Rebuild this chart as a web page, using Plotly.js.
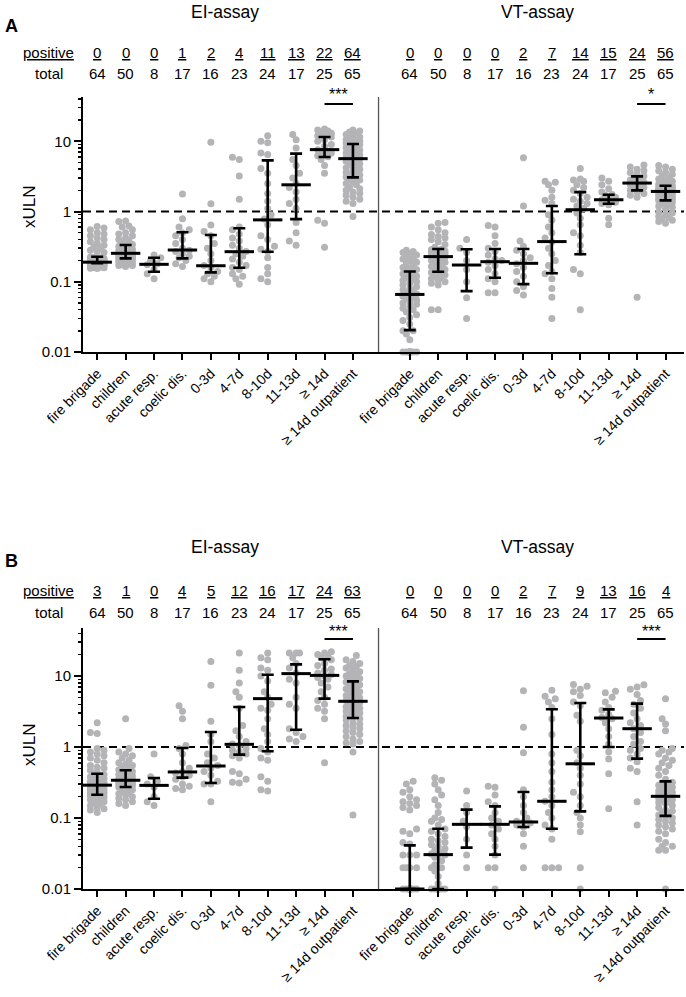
<!DOCTYPE html>
<html>
<head>
<meta charset="utf-8">
<script src="https://cdn.plot.ly/plotly-3.0.1.min.js"></script>
<style>
  html, body { margin: 0; padding: 0; background: #fff; }
  #chart { width: 686px; height: 997px; }
</style>
</head>
<body>
<div id="chart"></div>
<script>
// xULN values per group, EI- and VT-assay, panels A and B
const groups = ["fire brigade", "children", "acute resp.", "coelic dis.", "0-3d", "4-7d", "8-10d", "11-13d", "≥ 14d", "≥ 14d outpatient"];
const totals = [64, 50, 8, 17, 16, 23, 24, 17, 25, 65];

const posA_EI = [0, 0, 0, 1, 2, 4, 11, 13, 22, 64];
const posA_VT = [0, 0, 0, 0, 2, 7, 14, 15, 24, 56];
const posB_EI = [3, 1, 0, 4, 5, 12, 16, 17, 24, 63];
const posB_VT = [0, 0, 0, 0, 2, 7, 9, 13, 16, 4];

// median and interquartile range
const medA_EI = [0.19, 0.254, 0.177, 0.283, 0.169, 0.268, 0.76, 2.4, 7.6, 5.65];
const q1A_EI  = [0.183, 0.215, 0.139, 0.215, 0.136, 0.158, 0.268, 0.78, 5.97, 3.06];
const q3A_EI  = [0.227, 0.334, 0.22, 0.507, 0.464, 0.578, 5.35, 6.67, 11.5, 9.16];
const medA_VT = [0.066, 0.228, 0.173, 0.193, 0.183, 0.373, 1.06, 1.47, 2.54, 1.93];
const q1A_VT  = [0.0205, 0.139, 0.0736, 0.114, 0.0926, 0.132, 0.246, 1.29, 2.0, 1.44];
const q3A_VT  = [0.14, 0.293, 0.29, 0.293, 0.293, 1.2, 1.89, 1.73, 3.16, 2.33];
const medB_EI = [0.29, 0.34, 0.288, 0.445, 0.54, 1.09, 4.8, 10.8, 10.2, 4.4];
const q1B_EI  = [0.213, 0.273, 0.187, 0.37, 0.311, 0.78, 0.87, 1.75, 4.8, 2.56];
const q3B_EI  = [0.42, 0.47, 0.366, 0.97, 1.63, 3.66, 10.4, 14.6, 17.2, 8.4];
const medB_VT = [0.01, 0.0305, 0.0814, 0.0814, 0.0879, 0.172, 0.58, 2.56, 1.81, 0.202];
const q1B_VT  = [0.01, 0.01, 0.0382, 0.0305, 0.0747, 0.0707, 0.124, 1.0, 0.685, 0.107];
const q3B_VT  = [0.0412, 0.0707, 0.131, 0.146, 0.232, 3.4, 4.17, 3.39, 4.08, 0.328];

// individual samples
const eiA = [
  [0.61,0.58,0.55,0.5,0.48,0.45,0.42,0.4,0.37,0.35,0.33,0.31,0.3,0.28,0.27,0.26,0.225,0.222,0.22,0.218,0.215,0.212,0.21,0.208,0.205,0.203,0.2,0.198,0.196,0.194,0.192,0.19,0.189,0.188,0.188,0.187,0.186,0.186,0.185,0.185,0.184,0.184,0.183,0.183,0.183,0.182,0.182,0.181,0.18,0.178,0.176,0.175,0.173,0.172,0.17,0.168,0.167,0.165,0.163,0.162,0.16,0.158,0.156,0.155],
  [0.73,0.72,0.62,0.6,0.55,0.5,0.48,0.45,0.42,0.4,0.38,0.36,0.34,0.33,0.32,0.31,0.3,0.29,0.28,0.275,0.27,0.265,0.26,0.255,0.25,0.25,0.245,0.24,0.235,0.23,0.228,0.225,0.222,0.22,0.218,0.216,0.215,0.21,0.205,0.2,0.2,0.195,0.19,0.19,0.185,0.18,0.175,0.17,0.17,0.165],
  [0.24,0.22,0.2,0.18,0.175,0.15,0.13,0.11],
  [1.77,0.79,0.6,0.55,0.5,0.45,0.4,0.35,0.3,0.28,0.27,0.25,0.23,0.22,0.2,0.18,0.165],
  [9.7,1.29,0.64,0.52,0.45,0.35,0.3,0.25,0.2,0.17,0.16,0.14,0.13,0.12,0.11,0.1],
  [5.9,5.5,3.2,1.5,0.6,0.55,0.48,0.42,0.38,0.33,0.3,0.27,0.25,0.23,0.21,0.19,0.17,0.16,0.15,0.13,0.12,0.11,0.092],
  [12,10,9.5,6.8,6.5,4.1,3.5,2.5,1.8,1.4,1.1,0.9,0.78,0.65,0.45,0.4,0.32,0.29,0.27,0.22,0.16,0.13,0.11,0.1],
  [12.5,10.5,8,5.5,4.5,3.5,3,2.5,2.2,1.9,1.5,1.3,1.1,0.7,0.5,0.38,0.33],
  [15,14.5,14,13.5,13,12.5,12,11.5,10.5,10,9,8.5,7.6,7.2,7,6.8,6.5,6.2,6,5.5,4.5,3.5,0.75,0.68,0.31],
  [14.5,14,13.5,13,12.5,12,11.5,11,10.8,10.5,10.2,10,9.8,9.6,9.4,9.2,9,8.7,8.4,8.1,7.8,7.5,7.3,7,6.8,6.6,6.4,6.2,6,5.9,5.8,5.7,5.6,5.4,5.2,5,4.8,4.6,4.4,4.2,4,3.8,3.6,3.5,3.4,3.3,3.2,3.1,3,2.9,2.8,2.6,2.5,2.4,2.2,2.1,2,1.9,1.8,1.7,1.6,1.5,1.4,1.3,0.85]
];
const vtA = [
  [0.28,0.27,0.26,0.25,0.24,0.23,0.22,0.21,0.2,0.19,0.18,0.17,0.16,0.155,0.15,0.145,0.135,0.13,0.125,0.12,0.115,0.11,0.105,0.1,0.095,0.09,0.085,0.08,0.076,0.073,0.07,0.067,0.065,0.062,0.06,0.058,0.055,0.052,0.05,0.048,0.045,0.042,0.04,0.037,0.034,0.031,0.028,0.025,0.02,0.02,0.018,0.015,0.01,0.01,0.01,0.01,0.01,0.01,0.01,0.01,0.01,0.01,0.01,0.01],
  [0.7,0.68,0.6,0.55,0.5,0.47,0.44,0.42,0.4,0.37,0.34,0.31,0.29,0.285,0.28,0.275,0.27,0.265,0.26,0.255,0.25,0.245,0.24,0.235,0.23,0.225,0.22,0.21,0.2,0.195,0.19,0.18,0.17,0.165,0.16,0.15,0.145,0.138,0.135,0.13,0.125,0.12,0.115,0.11,0.105,0.1,0.095,0.09,0.04,0.04],
  [0.4,0.3,0.26,0.2,0.15,0.1,0.059,0.03],
  [0.63,0.6,0.45,0.35,0.3,0.27,0.24,0.21,0.2,0.19,0.17,0.15,0.13,0.11,0.1,0.07,0.07],
  [5.8,1.2,0.38,0.32,0.28,0.25,0.22,0.2,0.18,0.16,0.14,0.12,0.1,0.085,0.075,0.065],
  [2.7,2.6,2.4,2.0,1.6,1.45,1.3,0.9,0.75,0.6,0.5,0.42,0.37,0.3,0.25,0.2,0.17,0.14,0.13,0.11,0.08,0.06,0.03],
  [4.1,2.9,2.8,2.7,2.4,2.2,2.0,1.8,1.6,1.5,1.4,1.3,1.2,1.1,0.95,0.8,0.65,0.5,0.45,0.33,0.26,0.15,0.13,0.04],
  [3.0,2.7,2.4,2.1,1.9,1.75,1.7,1.6,1.5,1.47,1.45,1.4,1.35,1.3,1.25,0.8,0.65],
  [4.6,4.3,4.0,3.8,3.6,3.4,3.2,3.0,2.9,2.8,2.7,2.6,2.55,2.5,2.4,2.3,2.2,2.1,2.05,2.0,1.9,1.8,1.7,1.6,0.06],
  [4.5,4.3,4.0,3.8,3.6,3.4,3.2,3.0,2.9,2.8,2.7,2.6,2.5,2.45,2.4,2.35,2.3,2.27,2.24,2.2,2.17,2.14,2.1,2.07,2.04,2.02,2.0,1.98,1.97,1.96,1.95,1.94,1.9,1.87,1.84,1.8,1.77,1.74,1.7,1.67,1.64,1.6,1.57,1.54,1.52,1.5,1.48,1.45,1.42,1.38,1.34,1.3,1.25,1.2,1.15,1.1,0.98,0.95,0.9,0.85,0.82,0.78,0.75,0.72,0.68]
];
const eiB = [
  [2.2,1.6,1.55,0.95,0.9,0.85,0.8,0.75,0.7,0.65,0.6,0.55,0.52,0.5,0.47,0.44,0.41,0.4,0.39,0.38,0.37,0.36,0.35,0.34,0.33,0.32,0.315,0.31,0.305,0.3,0.295,0.29,0.285,0.28,0.275,0.27,0.265,0.26,0.255,0.25,0.245,0.24,0.235,0.23,0.225,0.22,0.217,0.214,0.21,0.205,0.2,0.195,0.19,0.185,0.18,0.175,0.17,0.165,0.16,0.15,0.14,0.135,0.13,0.12],
  [2.5,0.95,0.85,0.8,0.75,0.7,0.65,0.6,0.57,0.55,0.52,0.5,0.48,0.46,0.45,0.43,0.42,0.41,0.4,0.39,0.38,0.37,0.36,0.35,0.345,0.335,0.33,0.32,0.315,0.31,0.305,0.3,0.295,0.29,0.285,0.28,0.275,0.27,0.26,0.25,0.24,0.23,0.22,0.21,0.2,0.19,0.18,0.17,0.16,0.15],
  [0.8,0.38,0.33,0.3,0.27,0.2,0.17,0.15],
  [3.8,3.2,2.5,1.05,0.95,0.8,0.6,0.5,0.45,0.43,0.4,0.38,0.35,0.3,0.28,0.26,0.25],
  [16,7.4,2.3,1.5,1.2,0.8,0.7,0.6,0.55,0.5,0.45,0.4,0.33,0.3,0.3,0.17],
  [21,12,8,6,5,3.5,2,1.7,1.4,1.2,1.1,1.05,0.95,0.9,0.85,0.8,0.75,0.7,0.45,0.42,0.35,0.32,0.31],
  [21,18,17,13,12,10,8.5,6,5,4,3.5,3.3,2.5,1.8,1.5,1.2,0.95,0.85,0.7,0.65,0.38,0.33,0.25,0.24],
  [21,21,21,18,15,13,11,9,8,5,4,3.5,1.8,1.6,1.4,1.3,1.2],
  [22,21,20,19,18,17,15,14,12.5,12,11,10.5,10,9.5,9,8,7,6,5,4.5,4,3.5,3.2,2.5,0.6],
  [19.5,17,16,15,14,13.5,13,12,11.5,11,10.5,10,9.5,9.2,9,8.6,8.2,7.8,7.5,7.2,6.9,6.6,6.3,6,5.7,5.5,5.3,5.1,4.9,4.7,4.6,4.5,4.3,4.2,4,3.9,3.7,3.6,3.5,3.4,3.3,3.2,3.1,3,2.9,2.8,2.7,2.6,2.5,2.4,2.2,2.1,2,1.9,1.8,1.7,1.6,1.5,1.4,1.3,1.2,1.15,1.1,0.85,0.11]
];
const vtB = [
  [0.33,0.3,0.25,0.23,0.2,0.18,0.17,0.16,0.15,0.14,0.13,0.07,0.065,0.06,0.045,0.043,0.03,0.03,0.03,0.02,0.02,0.02,0.02,0.01,0.01,0.01,0.01,0.01,0.01,0.01,0.01,0.01,0.01,0.01,0.01,0.01,0.01,0.01,0.01,0.01,0.01,0.01,0.01,0.01,0.01,0.01,0.01,0.01,0.01,0.01,0.01,0.01,0.01,0.01,0.01,0.01,0.01,0.01,0.01,0.01,0.01,0.01,0.01,0.01],
  [0.37,0.34,0.3,0.25,0.21,0.18,0.15,0.12,0.1,0.095,0.09,0.08,0.07,0.065,0.06,0.055,0.05,0.048,0.045,0.042,0.04,0.037,0.035,0.033,0.031,0.03,0.03,0.028,0.025,0.022,0.02,0.02,0.02,0.018,0.015,0.012,0.01,0.01,0.01,0.01,0.01,0.01,0.01,0.01,0.01,0.01,0.01,0.01,0.01,0.01],
  [0.24,0.15,0.12,0.09,0.075,0.05,0.03,0.02],
  [0.28,0.27,0.21,0.17,0.15,0.12,0.1,0.09,0.08,0.07,0.06,0.05,0.04,0.03,0.02,0.02,0.01],
  [6.2,1.9,0.83,0.25,0.2,0.15,0.12,0.1,0.09,0.088,0.085,0.08,0.075,0.06,0.04,0.02],
  [6.3,5.2,4.8,4.3,3.6,2.5,1.5,0.8,0.6,0.45,0.32,0.25,0.2,0.172,0.15,0.12,0.1,0.08,0.07,0.05,0.02,0.02,0.02],
  [7.6,7.2,6.5,6.0,5.3,4.3,3.8,2.8,2.3,0.9,0.75,0.6,0.5,0.4,0.3,0.23,0.2,0.15,0.12,0.1,0.08,0.064,0.02,0.01],
  [6.1,5.8,5.0,4.3,3.6,3.3,2.9,2.6,2.5,2.2,1.8,1.4,1.1,0.85,0.68,0.42,0.135],
  [7.5,7.0,6.5,5.5,4.5,4.0,3.5,3.0,2.5,2.2,2.0,1.8,1.6,1.4,1.2,1.1,0.95,0.9,0.8,0.7,0.62,0.5,0.45,0.17,0.08],
  [4.8,2.5,2.1,1.7,0.95,0.9,0.85,0.8,0.7,0.65,0.6,0.55,0.5,0.45,0.4,0.35,0.32,0.31,0.3,0.29,0.28,0.27,0.26,0.25,0.24,0.235,0.23,0.225,0.22,0.215,0.21,0.205,0.2,0.195,0.19,0.185,0.18,0.175,0.17,0.165,0.16,0.15,0.14,0.13,0.125,0.12,0.115,0.11,0.105,0.1,0.095,0.09,0.085,0.08,0.075,0.07,0.065,0.06,0.05,0.045,0.04,0.04,0.035,0.035,0.01]
];

const W = 686, H = 997, L = 83, R = 2;
const PW = W - L - R;
const pyr = y => 1 - y / H;        // pixel row -> paper fraction
const pxr = x => (x - L) / PW;     // pixel column -> paper fraction
const VT_OFF = 11;                 // VT categories start after a blank slot
const X_RANGE = [-0.5, 20.65];
const PX_PER_CAT = PW / (X_RANGE[1] - X_RANGE[0]);
const DOT = "#b4b4b6";
const FONT = "Liberation Sans, Arial, sans-serif";

// simple beeswarm: spread samples sideways (in px) where dots would collide
function swarm(vals, pxPerDec) {
  const order = vals.map((v, i) => i).sort((a, b) => vals[a] - vals[b]);
  const cands = [0, -3.4, 3.4, -6.8, 6.8];
  const placed = [];
  const off = new Array(vals.length).fill(0);
  for (const i of order) {
    const y = Math.log10(vals[i]) * pxPerDec;
    let best = 0, bestD = -1;
    for (const c of cands) {
      let dmin = Infinity;
      for (const p of placed) {
        const d = Math.hypot(p.x - c, p.y - y);
        if (d < dmin) dmin = d;
      }
      if (dmin >= 6.2) { best = c; bestD = dmin; break; }
      if (dmin > bestD) { bestD = dmin; best = c; }
    }
    placed.push({ x: best, y });
    off[i] = best;
  }
  return off;
}

const panels = [
  { label: "A", xa: "x", ya: "y", top: 97, bottom: 352, yTop: 1.63,
    titleY: 12, posY: 52, totY: 74, starY: 95, sigY: 104, axTitleY: 207,
    sets: [
      { off: 0, vals: eiA, med: medA_EI, q1: q1A_EI, q3: q3A_EI, pos: posA_EI, star: "***", name: "EI-assay" },
      { off: VT_OFF, vals: vtA, med: medA_VT, q1: q1A_VT, q3: q3A_VT, pos: posA_VT, star: "*", name: "VT-assay" }
    ] },
  { label: "B", xa: "x2", ya: "y2", top: 628, bottom: 889, yTop: 1.676,
    titleY: 547, posY: 590, totY: 612, starY: 631, sigY: 639, axTitleY: 745,
    sets: [
      { off: 0, vals: eiB, med: medB_EI, q1: q1B_EI, q3: q3B_EI, pos: posB_EI, star: "***", name: "EI-assay" },
      { off: VT_OFF, vals: vtB, med: medB_VT, q1: q1B_VT, q3: q3B_VT, pos: posB_VT, star: "***", name: "VT-assay" }
    ] }
];

const tickvals = [], ticktext = [];
groups.forEach((g, i) => { tickvals.push(i); ticktext.push(g); });
groups.forEach((g, i) => { tickvals.push(i + VT_OFF); ticktext.push(g); });

const minorVals = [];
[0.01, 0.1, 1, 10].forEach(d => { for (let k = 2; k <= 9; k++) minorVals.push(+(d * k).toPrecision(3)); });

const traces = [], annotations = [], shapes = [];
const layout = {
  width: W, height: H,
  margin: { l: L, r: R, t: 0, b: 0 },
  paper_bgcolor: "#fff", plot_bgcolor: "#fff",
  font: { family: FONT, color: "#000", size: 15 },
  showlegend: false, hovermode: false
};

panels.forEach((p, pi) => {
  const sfx = pi === 0 ? "" : "2";
  const minorName = "yaxis" + (pi + 3);
  const pxPerDec = (p.bottom - p.top) / (p.yTop + 2);
  const yMax = Math.pow(10, p.yTop);

  layout["xaxis" + sfx] = {
    anchor: p.ya, domain: [0, 1], range: X_RANGE,
    tickmode: "array", tickvals, ticktext, tickangle: -45,
    ticks: "outside", ticklen: 6, tickwidth: 2, tickcolor: "#000",
    showline: true, linewidth: 2, linecolor: "#000",
    showgrid: false, zeroline: false,
    tickfont: { family: FONT, size: 14, color: "#000" }
  };
  layout["yaxis" + sfx] = {
    anchor: p.xa, type: "log", domain: [pyr(p.bottom), pyr(p.top)], range: [-2, p.yTop],
    tickmode: "array", tickvals: [0.01, 0.1, 1, 10], ticktext: ["0.01", "0.1", "1", "10"],
    ticks: "outside", ticklen: 7, tickwidth: 2, tickcolor: "#000",
    showline: true, linewidth: 2, linecolor: "#000",
    showgrid: false, zeroline: false,
    tickfont: { family: FONT, size: 15, color: "#000" }
  };
  // minor log ticks on an overlaid axis
  layout[minorName] = {
    overlaying: p.ya, anchor: p.xa, type: "log", range: [-2, p.yTop],
    tickmode: "array", tickvals: minorVals, showticklabels: false,
    ticks: "outside", ticklen: 4, tickwidth: 1.5, tickcolor: "#000",
    showline: false, showgrid: false, zeroline: false
  };
  traces.push({ x: [0], y: [1], xaxis: p.xa, yaxis: "y" + (pi + 3), mode: "markers",
    marker: { opacity: 0 }, hoverinfo: "skip" });

  // reference line at 1 x ULN and the separator between assays
  traces.push({ x: X_RANGE, y: [1, 1], xaxis: p.xa, yaxis: p.ya, mode: "lines",
    line: { color: "#000", width: 2, dash: "8px,5px" }, hoverinfo: "skip" });
  traces.push({ x: [VT_OFF - 1.1, VT_OFF - 1.1], y: [0.01, yMax], xaxis: p.xa, yaxis: p.ya, mode: "lines",
    line: { color: "#555", width: 1.3 }, hoverinfo: "skip" });

  p.sets.forEach(s => {
    const xs = [], ys = [];
    s.vals.forEach((vals, gi) => {
      const offs = swarm(vals, pxPerDec);
      vals.forEach((v, k) => { xs.push(gi + s.off + offs[k] / PX_PER_CAT); ys.push(v); });
    });
    traces.push({ x: xs, y: ys, xaxis: p.xa, yaxis: p.ya, mode: "markers", cliponaxis: false,
      marker: { size: 7, color: DOT }, hoverinfo: "skip" });

    traces.push({
      x: groups.map((g, i) => i + s.off), y: s.med, xaxis: p.xa, yaxis: p.ya,
      mode: "markers", cliponaxis: false,
      marker: { symbol: "line-ew", size: 21, line: { width: 3, color: "#000" } },
      error_y: { type: "data", symmetric: false,
        array: s.med.map((m, i) => s.q3[i] - m), arrayminus: s.med.map((m, i) => m - s.q1[i]),
        color: "#000", thickness: 2.6, width: 6 },
      hoverinfo: "skip"
    });

    // header: positive / total counts
    s.pos.forEach((n, i) => {
      annotations.push({ xref: p.xa, yref: "paper", x: i + s.off, y: pyr(p.posY), text: "<u>" + n + "</u>",
        showarrow: false, xanchor: "center", yanchor: "middle", font: { size: 15 } });
      annotations.push({ xref: p.xa, yref: "paper", x: i + s.off, y: pyr(p.totY), text: String(totals[i]),
        showarrow: false, xanchor: "center", yanchor: "middle", font: { size: 15 } });
    });

    annotations.push({ xref: p.xa, yref: "paper", x: s.off + 4.5, y: pyr(p.titleY), text: s.name,
      showarrow: false, xanchor: "center", yanchor: "middle", font: { size: 17.5 } });

    // significance bar between the last two groups
    shapes.push({ type: "line", xref: p.xa, yref: "paper", x0: s.off + 8, x1: s.off + 9,
      y0: pyr(p.sigY), y1: pyr(p.sigY), line: { color: "#000", width: 2 } });
    annotations.push({ xref: p.xa, yref: "paper", x: s.off + 8.5, y: pyr(p.starY), text: s.star,
      showarrow: false, xanchor: "center", yanchor: "middle", font: { size: 16 } });
  });

  annotations.push({ xref: "paper", yref: "paper", x: pxr(48), y: pyr(p.posY), text: "<u>positive</u>",
    showarrow: false, xanchor: "center", yanchor: "middle", font: { size: 15 } });
  annotations.push({ xref: "paper", yref: "paper", x: pxr(49), y: pyr(p.totY), text: "total",
    showarrow: false, xanchor: "center", yanchor: "middle", font: { size: 15 } });
  annotations.push({ xref: "paper", yref: "paper", x: pxr(29), y: pyr(p.axTitleY), text: "xULN",
    textangle: -90, showarrow: false, xanchor: "center", yanchor: "middle", font: { size: 17 } });
  annotations.push({ xref: "paper", yref: "paper", x: pxr(11), y: pyr(p.titleY + 14), text: "<b>" + p.label + "</b>",
    showarrow: false, xanchor: "center", yanchor: "middle", font: { size: 18 } });
});

layout.annotations = annotations;
layout.shapes = shapes;

Plotly.newPlot("chart", traces, layout, { displayModeBar: false, staticPlot: true });
</script>
</body>
</html>
